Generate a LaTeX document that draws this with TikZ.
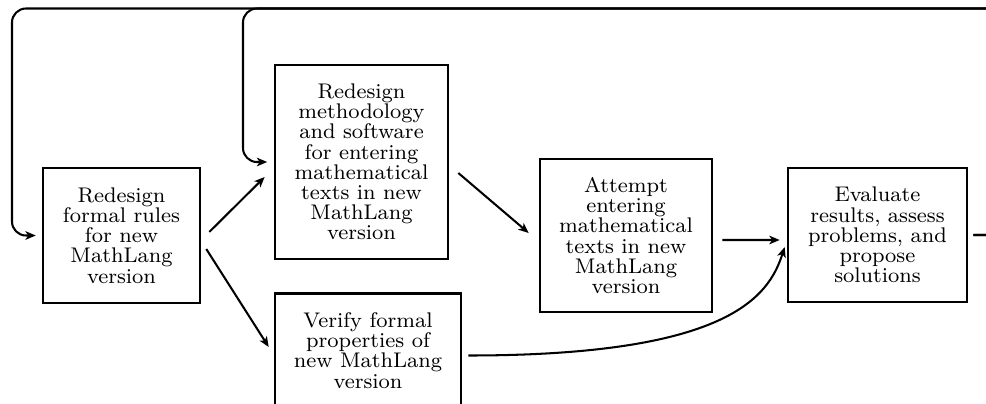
\documentclass[tikz,border=0pt]{standalone}
\usepackage{fontspec}
\newfontfamily\stepfont{lmroman8-regular.otf}
\usetikzlibrary{arrows.meta}
\begin{document}
\begin{tikzpicture}[x=0.4651pt, y=-0.4651pt,
  stepbox/.style={draw, line width=1.2pt, inner sep=0pt, align=center,
    font=\stepfont\fontsize{9.85}{9.4}\selectfont},
  arr/.style={line width=0.95pt, -{Stealth[length=4.8pt,width=4pt,inset=1.3pt]}},
  loopback/.style={arr, rounded corners=6.5pt}]
\useasboundingbox (0,0) rectangle (986,404);
\clip (0,0) rectangle (986,404);

% process steps
\node[stepbox, minimum width=73pt, minimum height=62.8pt] (A) at (121.5,235.5)
  {Redesign\\formal rules\\for new\\MathLang\\version};
\node[stepbox, minimum width=80.5pt, minimum height=90.2pt] (B) at (361.5,162)
  {Redesign\\methodology\\and software\\for entering\\mathematical\\texts in new\\MathLang\\version};
\node[stepbox, minimum width=80pt, minimum height=71.2pt] (C) at (626,235.5)
  {Attempt\\entering\\mathematical\\texts in new\\MathLang\\version};
\node[stepbox, minimum width=83.3pt, minimum height=62.3pt] (D) at (877.5,235)
  {Evaluate\\results, assess\\problems, and\\propose\\solutions};
\node[stepbox, minimum width=86.5pt, minimum height=53pt] (E) at (368,350.5)
  {Verify formal\\properties of\\new MathLang\\version};

% forward flow
\draw[arr] ([shift={(8,-3.5)}]A.east) -- ([shift={(-9,15)}]B.west);
\draw[arr] ([shift={(5,13.5)}]A.east) -- ([shift={(-5,-3.5)}]E.west);
\draw[arr] ([shift={(9,11)}]B.east) -- ([shift={(-10,-2.5)}]C.west);
\draw[arr] ([shift={(9,4.5)}]C.east) -- ([shift={(-7,5)}]D.west);
\draw[arr] ([shift={(6,5)}]E.east) .. controls +(260,0) and +(-16,50) .. ([shift={(-2,12)}]D.west);

% feedback loops over the top
\coordinate (topR) at (1010,8.5);
\coordinate (topA) at (12,8.5);
\coordinate (topB) at (243,8.5);
\draw[loopback] ([shift={(5,0)}]D.east) -| (topR) -- (topA) |- ([shift={(-6,0)}]A.west);
\draw[loopback] ([shift={(5,0)}]D.east) -| (topR) -- (topB) |- ([shift={(-6.5,0)}]B.west);
\end{tikzpicture}
\end{document}
